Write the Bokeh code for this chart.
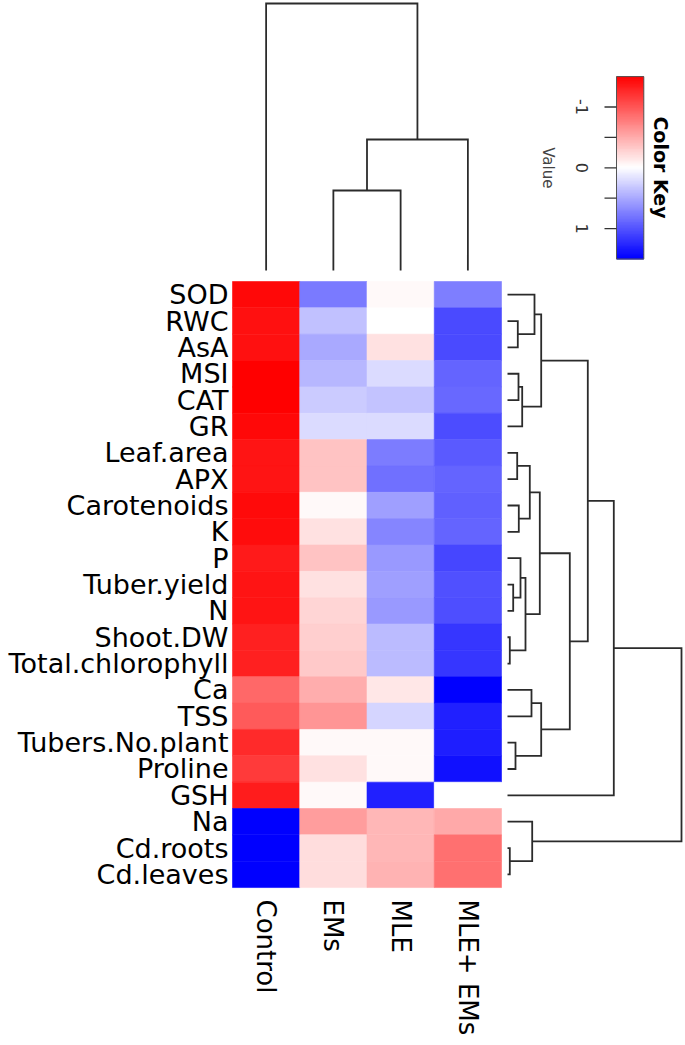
import numpy as np
from bokeh.plotting import figure
from bokeh.models import Range1d, ColumnDataSource, LinearColorMapper
from bokeh.core.properties import value
from bokeh.embed import file_html
from bokeh.resources import INLINE

# ---------------- data ----------------
rows = ["SOD", "RWC", "AsA", "MSI", "CAT", "GR", "Leaf.area", "APX", "Carotenoids",
        "K", "P", "Tuber.yield", "N", "Shoot.DW", "Total.chlorophyll", "Ca", "TSS",
        "Tubers.No.plant", "Proline", "GSH", "Na", "Cd.roots", "Cd.leaves"]
cols = ["Control", "EMs", "MLE", "MLE+ EMs"]

control = [-1.45, -1.40, -1.40, -1.50, -1.50, -1.45, -1.38, -1.38, -1.44, -1.42, -1.34, -1.38,
           -1.38, -1.30, -1.30, -0.88, -0.97, -1.25, -1.15, -1.33, 1.50, 1.50, 1.50]
ems = [0.78, 0.37, 0.51, 0.42, 0.30, 0.21, -0.35, -0.35, -0.04, -0.18, -0.35, -0.18,
       -0.25, -0.28, -0.32, -0.48, -0.62, -0.04, -0.18, -0.04, -0.58, -0.20, -0.20]
mle = [-0.04, 0.00, -0.18, 0.21, 0.35, 0.21, 0.77, 0.84, 0.56, 0.72, 0.60, 0.56,
       0.60, 0.40, 0.40, -0.14, 0.25, -0.03, -0.03, 1.31, -0.42, -0.42, -0.45]
mle_ems = [0.75, 1.06, 1.06, 0.90, 0.88, 1.05, 0.96, 0.91, 0.93, 0.91, 1.08, 1.02,
           1.03, 1.18, 1.18, 1.50, 1.31, 1.32, 1.40, 0.00, -0.51, -0.84, -0.84]

# column dendrogram: (child_a, child_b, height); leaves 0..3, new clusters 4..
col_merges = [(1, 2, 0.80), (4, 3, 1.31), (0, 5, 2.67)]
# row dendrogram: leaves 0..22, new clusters 23..
row_merges = [(1, 2, 1.03), (0, 23, 2.70), (3, 4, 1.10), (25, 5, 1.47), (24, 26, 3.37),
              (6, 7, 0.97), (8, 9, 1.13), (28, 29, 2.23), (11, 12, 0.57), (10, 31, 1.30),
              (13, 14, 0.23), (32, 33, 1.80), (30, 34, 3.23), (15, 16, 2.40), (17, 18, 0.80),
              (36, 37, 3.37), (35, 38, 6.23), (27, 39, 8.03), (40, 19, 10.63),
              (21, 22, 0.23), (20, 42, 2.47), (41, 43, 17.40)]

key_low, key_high = -1.5, 1.5
key_ticks = [-1.0, -0.5, 0.0, 0.5, 1.0]
key_labeled = [-1.0, 0.0, 1.0]
key_labels = ["-1", "0", "1"]

# ---------------- layout constants (pixels of the page) ----------------
W, H = 685, 1045
CW, RH = 67.25, 26.35         # cell width / height
X0, Y0 = 232, 281             # heatmap top-left
NR, NC = len(rows), len(cols)


def fx(px):
    return (px - X0) / CW


def fy(py):
    return NR - (py - Y0) / RH


def ramp(n):
    pal = []
    for i in range(n):
        t = i / (n - 1)
        if t <= 0.5:
            s = t / 0.5
            r, g, b = 255, round(255 * s), round(255 * s)
        else:
            s = (t - 0.5) / 0.5
            r, g, b = round(255 * (1 - s)), round(255 * (1 - s)), 255
        pal.append("#%02x%02x%02x" % (r, g, b))
    return pal


mapper = LinearColorMapper(palette=ramp(255), low=key_low, high=key_high)

p = figure(width=W, height=H, x_range=Range1d(fx(0), fx(W)),
           y_range=Range1d(fy(H), fy(0)), output_backend="svg",
           toolbar_location=None, x_axis_type=None, y_axis_type=None,
           min_border=0, background_fill_color="white", border_fill_color="white")
p.outline_line_color = None

# ---------------- heatmap ----------------
series = [control, ems, mle, mle_ems]
L, R, T, B, V = [], [], [], [], []
for j, col_vals in enumerate(series):
    for i, v in enumerate(col_vals):
        L.append(j); R.append(j + 1)
        T.append(NR - i); B.append(NR - i - 1)
        V.append(v)
src = ColumnDataSource(dict(left=L, right=R, top=T, bottom=B, v=V))
p.quad(left="left", right="right", top="top", bottom="bottom",
       fill_color={"field": "v", "transform": mapper},
       line_color={"field": "v", "transform": mapper}, line_width=0.6, source=src)


# ---------------- dendrograms ----------------
def dendro(merges, n):
    pos = {i: i + 0.5 for i in range(n)}
    hgt = {i: 0.0 for i in range(n)}
    brackets = []
    for k, (a, b, h) in enumerate(merges):
        c = n + k
        brackets.append(([pos[a], pos[a], pos[b], pos[b]], [hgt[a], h, h, hgt[b]]))
        pos[c] = (pos[a] + pos[b]) / 2
        hgt[c] = h
    return brackets


TOP_LEAF, TOP_SCALE = 270, 100.0
xs, ys = [], []
for ps, hs in dendro(col_merges, NC):
    xs.append(ps)
    ys.append([fy(TOP_LEAF - h * TOP_SCALE) for h in hs])
p.multi_line(xs, ys, line_color="#2b2b2b", line_width=1.8, line_join="miter")

RIGHT_LEAF, RIGHT_SCALE = 507, 10.0
xs, ys = [], []
for ps, hs in dendro(row_merges, NR):
    ys.append([NR - q for q in ps])
    xs.append([fx(RIGHT_LEAF + h * RIGHT_SCALE) for h in hs])
p.multi_line(xs, ys, line_color="#2b2b2b", line_width=1.8, line_join="miter")

# ---------------- labels ----------------
p.text(x=[fx(228)] * NR, y=[NR - i - 0.5 for i in range(NR)], text=rows,
       text_align="right", text_baseline="middle", text_font=value("DejaVu Sans"),
       text_font_size="27px", text_color="black")
p.text(x=[j + 0.5 for j in range(NC)], y=[fy(899)] * NC, text=cols, angle=-np.pi / 2,
       text_align="left", text_baseline="middle", text_font=value("DejaVu Sans"),
       text_font_size="26px", text_color="black")

# ---------------- colour key ----------------
KEY_MID, KEY_PX = 167.3, 60.8
KEY_L, KEY_R = 616, 643.3


def ky(v):
    return fy(KEY_MID + v * KEY_PX)


edges = np.linspace(key_low, key_high, 121)
mids = (edges[:-1] + edges[1:]) / 2
ksrc = ColumnDataSource(dict(top=[ky(e) + 0.02 for e in edges[:-1]],
                             bottom=[ky(e) - 0.02 for e in edges[1:]], v=mids))
p.quad(left=fx(KEY_L), right=fx(KEY_R), top="top", bottom="bottom",
       fill_color={"field": "v", "transform": mapper}, line_color=None, source=ksrc)
p.quad(left=[fx(KEY_L)], right=[fx(KEY_R)], top=[ky(key_low)], bottom=[ky(key_high)],
       fill_color=None, line_color="#555555", line_width=1)
p.segment(x0=[fx(604)] * len(key_ticks), x1=[fx(KEY_L)] * len(key_ticks),
          y0=[ky(t) for t in key_ticks], y1=[ky(t) for t in key_ticks],
          line_color="#333333", line_width=1.3)
p.text(x=[fx(581)] * len(key_labeled), y=[ky(t) for t in key_labeled], text=key_labels,
       angle=-np.pi / 2, text_align="center", text_baseline="middle",
       text_font=value("DejaVu Sans"), text_font_size="16px", text_color="#333333")
p.text(x=[fx(547)], y=[ky(0)], text=["Value"], angle=-np.pi / 2, text_align="center",
       text_baseline="middle", text_font=value("DejaVu Sans"), text_font_size="15px",
       text_color="#444444")
p.text(x=[fx(660)], y=[fy(167)], text=["Color Key"], angle=-np.pi / 2, text_align="center",
       text_baseline="middle", text_font=value("DejaVu Sans"), text_font_size="19px",
       text_font_style="bold", text_color="black")

open("out.html", "w").write(file_html(p, INLINE))
